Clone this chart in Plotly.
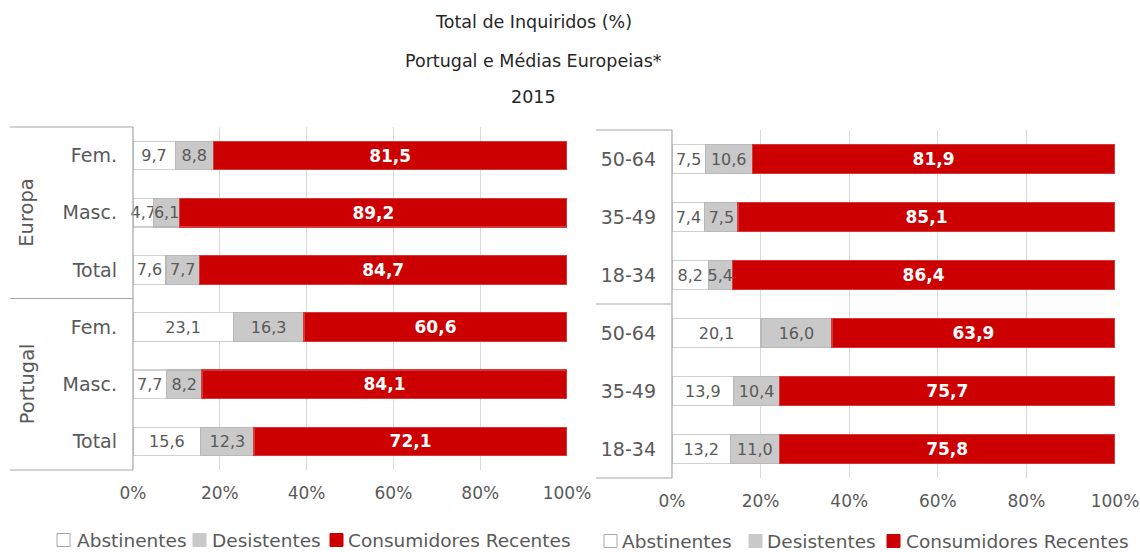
import plotly.graph_objects as go

W, H = 1140, 552

# ---- data ----
groups = ["Europa", "Portugal"]
sex_labels = ["Fem.", "Masc.", "Total", "Fem.", "Masc.", "Total"]
sex_abst = [9.7, 4.7, 7.6, 23.1, 7.7, 15.6]
sex_desist = [8.8, 6.1, 7.7, 16.3, 8.2, 12.3]
sex_cons = [81.5, 89.2, 84.7, 60.6, 84.1, 72.1]

age_labels = ["50-64", "35-49", "18-34", "50-64", "35-49", "18-34"]
age_abst = [7.5, 7.4, 8.2, 20.1, 13.9, 13.2]
age_desist = [10.6, 7.5, 5.4, 16.0, 10.4, 11.0]
age_cons = [81.9, 85.1, 86.4, 63.9, 75.7, 75.8]

series_names = ["Abstinentes", "Desistentes", "Consumidores Recentes"]
x_ticks = [0, 20, 40, 60, 80, 100]
x_tick_text = ["0%", "20%", "40%", "60%", "80%", "100%"]

title_lines = ["Total de Inquiridos (%)", "Portugal e Médias Europeias*", "2015"]

# ---- style ----
FONT = "DejaVu Sans"
TXT = "#595959"
fills = ["#FFFFFF", "#C9C9C9", "#CC0000"]
borders = ["#D0D0D0", "#B8B8B8", "#D43A3A"]
legend_borders = ["#A6A6A6", "#C9C9C9", "#CC0000"]
label_colors = [TXT, TXT, "#FFFFFF"]
GRID = "#D9D9D9"
BOX = "#A6A6A6"


def px_x(p):
    return p / W


def px_y(p):
    return 1 - p / H


fig = go.Figure()

panels = [
    dict(labels=sex_labels, vals=[sex_abst, sex_desist, sex_cons], xa="x", ya="y",
         x0=133, x1=567, y0=127, y1=470, box_left=10,
         legend_sq=[57, 193, 330], legend_txt=[75, 210, 346], legend_y=540),
    dict(labels=age_labels, vals=[age_abst, age_desist, age_cons], xa="x2", ya="y2",
         x0=672, x1=1115, y0=130, y1=478, box_left=596,
         legend_sq=[604, 749, 887], legend_txt=[620, 765, 904], legend_y=541),
]

for p in panels:
    pos = list(range(len(p["labels"])))
    for i, name in enumerate(series_names):
        fig.add_trace(go.Bar(
            y=pos, x=p["vals"][i], name=name, orientation="h",
            xaxis=p["xa"], yaxis=p["ya"], showlegend=False,
            marker=dict(color=fills[i], line=dict(color=borders[i], width=1.2)),
            width=0.5,
            texttemplate="%{x:.1f}", textposition="inside", insidetextanchor="middle",
            textangle=0, constraintext="none", cliponaxis=False,
            textfont=dict(family=FONT, size=16 if i < 2 else 17, color=label_colors[i],
                          weight="bold" if i == 2 else "normal"),
            hoverinfo="skip",
        ))

axis_common = dict(range=[0, 100], tickvals=x_ticks, ticktext=x_tick_text, showgrid=True, gridcolor=GRID,
                   gridwidth=1, zeroline=False, showline=False, ticks="", ticklabelstandoff=11,
                   automargin=False,
                   tickfont=dict(family=FONT, size=17, color=TXT), fixedrange=True)
yaxis_common = dict(range=[5.5, -0.5], tickvals=list(range(6)), showgrid=False, zeroline=False,
                    showline=False, ticks="", ticklabelstandoff=15, automargin=False,
                    tickfont=dict(family=FONT, size=19, color=TXT), fixedrange=True)

p0, p1 = panels
fig.update_layout(
    xaxis=dict(domain=[px_x(p0["x0"]), px_x(p0["x1"])], anchor="y", **axis_common),
    yaxis=dict(domain=[px_y(p0["y1"]), px_y(p0["y0"])], anchor="x", ticktext=p0["labels"], **yaxis_common),
    xaxis2=dict(domain=[px_x(p1["x0"]), px_x(p1["x1"])], anchor="y2", **axis_common),
    yaxis2=dict(domain=[px_y(p1["y1"]), px_y(p1["y0"])], anchor="x2", ticktext=p1["labels"], **yaxis_common),
)

shapes = []
annotations = []
for p in panels:
    # box lines (group separators)
    mid = (p["y0"] + p["y1"]) / 2
    shapes.append(dict(type="line", xref="paper", yref="paper",
                       x0=px_x(p["x0"]), x1=px_x(p["x0"]), y0=px_y(p["y0"]), y1=px_y(p["y1"]),
                       line=dict(color=BOX, width=1.2)))
    for yy in [p["y0"], mid, p["y1"]]:
        shapes.append(dict(type="line", xref="paper", yref="paper",
                           x0=px_x(p["box_left"]), x1=px_x(p["x0"]), y0=px_y(yy), y1=px_y(yy),
                           line=dict(color=BOX, width=1.2)))
    # legend (squares + labels)
    ly = p["legend_y"]
    for i, name in enumerate(series_names):
        sx = p["legend_sq"][i]
        shapes.append(dict(type="rect", xref="paper", yref="paper",
                           x0=px_x(sx), x1=px_x(sx + 13), y0=px_y(ly - 6.5), y1=px_y(ly + 6.5),
                           fillcolor=fills[i], line=dict(color=legend_borders[i], width=1)))
        annotations.append(dict(text=name, xref="paper", yref="paper", x=px_x(p["legend_txt"][i]),
                                y=px_y(ly), showarrow=False, xanchor="left", yanchor="middle",
                                font=dict(family=FONT, size=18.5, color=TXT)))

# rotated group labels on left panel
for gi, g in enumerate(groups):
    yc = p0["y0"] + (p0["y1"] - p0["y0"]) * (0.25 + 0.5 * gi)
    annotations.append(dict(text=g, xref="paper", yref="paper", x=px_x(27), y=px_y(yc),
                            showarrow=False, textangle=-90, xanchor="center", yanchor="middle",
                            font=dict(family=FONT, size=19.5, color=TXT)))
# title lines
for t, yy in zip(title_lines, [22, 61, 97]):
    annotations.append(dict(text=t, xref="paper", yref="paper", x=px_x(533), y=px_y(yy),
                            showarrow=False, xanchor="center", yanchor="middle",
                            font=dict(family=FONT, size=17.5, color="#262626")))

fig.update_layout(
    width=W, height=H, margin=dict(l=0, r=0, t=0, b=0, autoexpand=False),
    paper_bgcolor="white", plot_bgcolor="white",
    barmode="stack", separators=",.",
    showlegend=False,
    shapes=shapes, annotations=annotations,
)

fig.write_html("out.html", config={"displayModeBar": False},
               post_script="document.body.style.margin='0';document.body.style.overflow='hidden';")
